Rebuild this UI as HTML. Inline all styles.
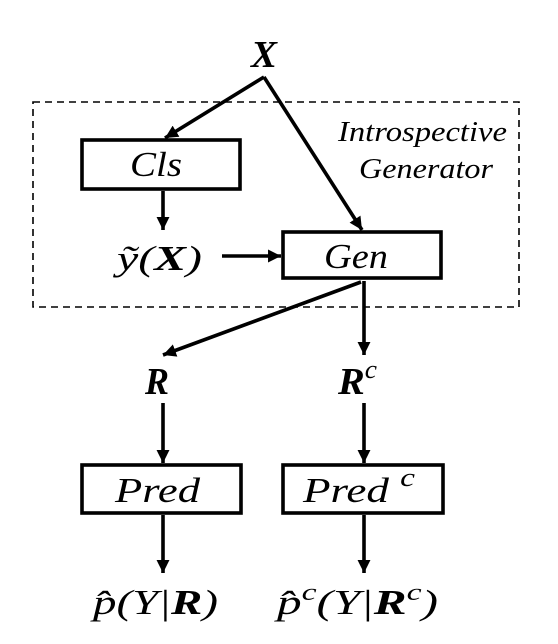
<!DOCTYPE html>
<html><head><meta charset="utf-8"><style>
html,body{margin:0;padding:0;background:#fff;width:558px;height:644px;overflow:hidden}
svg text{font-family:"Liberation Serif",serif;font-style:italic;fill:#000}
</style></head><body>
<svg width="558" height="644" viewBox="0 0 558 644">
<defs><marker id="ah" viewBox="0 0 10 10" refX="10" refY="5" markerWidth="3.6" markerHeight="3.6" orient="auto" markerUnits="strokeWidth"><path d="M0,0 L10,5 L0,10 z" fill="#000"/></marker></defs>
<rect x="33" y="102" width="486" height="205" fill="none" stroke="#000" stroke-width="1.6" stroke-dasharray="7,5"/>
<text x="338" y="141" font-size="29" textLength="169" lengthAdjust="spacingAndGlyphs">Introspective</text>
<text x="359" y="178" font-size="29" textLength="134" lengthAdjust="spacingAndGlyphs">Generator</text>
<text x="251" y="67" font-size="38" font-weight="bold" textLength="26" lengthAdjust="spacingAndGlyphs">X</text>
<g stroke="#000" stroke-width="3.6" fill="none">
<line x1="264" y1="77" x2="165" y2="138" marker-end="url(#ah)"/>
<line x1="264" y1="77" x2="362" y2="230" marker-end="url(#ah)"/>
<line x1="163" y1="191" x2="163" y2="230" marker-end="url(#ah)"/>
<line x1="222" y1="256" x2="281" y2="256" marker-end="url(#ah)"/>
<line x1="361" y1="282" x2="163" y2="355" marker-end="url(#ah)"/>
<line x1="364" y1="281" x2="364" y2="355" marker-end="url(#ah)"/>
<line x1="163" y1="403" x2="163" y2="463" marker-end="url(#ah)"/>
<line x1="364" y1="403" x2="364" y2="463" marker-end="url(#ah)"/>
<line x1="163" y1="515" x2="163" y2="573" marker-end="url(#ah)"/>
<line x1="364" y1="515" x2="364" y2="573" marker-end="url(#ah)"/>
</g>
<rect x="82" y="140" width="158" height="49" fill="#fff" stroke="#000" stroke-width="3.6"/>
<text x="130" y="176" font-size="35" textLength="52" lengthAdjust="spacingAndGlyphs">Cls</text>
<text x="117" y="270" font-size="35" textLength="85" lengthAdjust="spacingAndGlyphs">ỹ(<tspan font-weight="bold">X</tspan>)</text>
<rect x="283" y="232" width="158" height="46" fill="#fff" stroke="#000" stroke-width="3.6"/>
<text x="324" y="268" font-size="35" textLength="64" lengthAdjust="spacingAndGlyphs">Gen</text>
<text x="145" y="394" font-size="38" font-weight="bold" textLength="24" lengthAdjust="spacingAndGlyphs">R</text>
<text x="338" y="394" font-size="38" font-weight="bold" textLength="39" lengthAdjust="spacingAndGlyphs">R<tspan font-weight="normal" font-size="26" dy="-16">c</tspan></text>
<rect x="82" y="465" width="159" height="48" fill="#fff" stroke="#000" stroke-width="3.6"/>
<text x="115" y="502" font-size="35" textLength="85" lengthAdjust="spacingAndGlyphs">Pred</text>
<text x="303" y="502" font-size="35" textLength="112" lengthAdjust="spacingAndGlyphs">Pred <tspan font-size="26" dy="-16">c</tspan></text>
<rect x="283" y="465" width="160" height="48" fill="none" stroke="#000" stroke-width="3.6"/>
<text x="93" y="614" font-size="35" textLength="125" lengthAdjust="spacingAndGlyphs">p̂(Y|<tspan font-weight="bold">R</tspan>)</text>
<text x="277" y="614" font-size="35" textLength="161" lengthAdjust="spacingAndGlyphs">p̂<tspan font-size="24" dy="-14">c</tspan><tspan dy="14">(Y|</tspan><tspan font-weight="bold">R</tspan><tspan font-size="24" dy="-14">c</tspan><tspan dy="14">)</tspan></text>
</svg>
</body></html>
